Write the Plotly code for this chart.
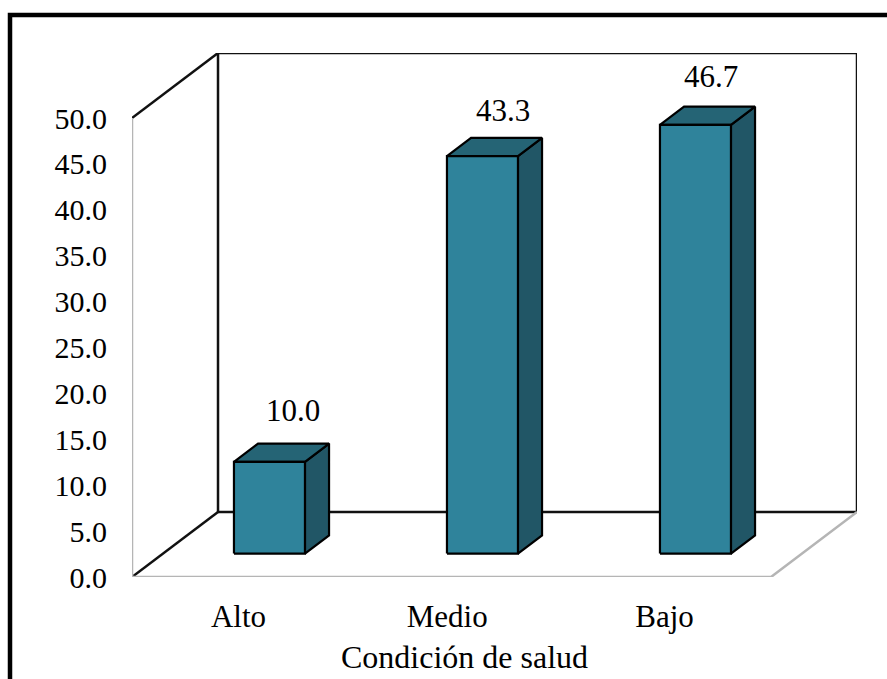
import plotly.graph_objects as go

categories = ["Alto", "Medio", "Bajo"]
values = [10.0, 43.3, 46.7]
y_ticks = [0, 5, 10, 15, 20, 25, 30, 35, 40, 45, 50]
axis_title = "Condición de salud"

FONT = "Liberation Serif"
FRONT = "#2F839B"
TOP = "#256475"
SIDE = "#215666"
WALL_DARK = "#111111"
WALL_GREY = "#B5B5B5"

Y_MAX = 50
# Oblique projection: how far a full step into the chart shifts a point
DEPTH_X = 0.4038
DEPTH_Y = 7.08
BAR_WIDTH = 1 / 3
BAR_NEAR = 0.36
BAR_FAR = 0.64


def project(cat, value, depth=0.0):
    return cat + depth * DEPTH_X, value + depth * DEPTH_Y


def polyline(corners, color, width=2.5, fill=None):
    xs, ys = zip(*[project(*c) for c in corners])
    return go.Scatter(
        x=xs, y=ys, mode="lines",
        line=dict(color=color, width=width),
        fill="toself" if fill else "none",
        fillcolor=fill,
        cliponaxis=False,
        hoverinfo="skip",
        showlegend=False,
    )


fig = go.Figure()

# Walls and floor of the box
left, right = -0.5, len(categories) - 0.5
fig.add_trace(polyline([(left, 0, 1), (right, 0, 1), (right, Y_MAX, 1),
                        (left, Y_MAX, 1), (left, 0, 1)], WALL_DARK))
fig.add_trace(polyline([(left, Y_MAX, 0), (left, Y_MAX, 1)], WALL_DARK))
fig.add_trace(polyline([(left, 0, 0), (left, 0, 1)], WALL_DARK))
fig.add_trace(polyline([(left, 0, 0), (right, 0, 0), (right, 0, 1)], WALL_GREY))
fig.add_trace(polyline([(left, 0, 0), (left, Y_MAX, 0)], WALL_GREY))

# Each bar is three faces: side, top and front
for i, v in enumerate(values):
    x0, x1 = i - BAR_WIDTH / 2, i + BAR_WIDTH / 2
    fig.add_trace(polyline([(x1, 0, BAR_NEAR), (x1, 0, BAR_FAR), (x1, v, BAR_FAR),
                            (x1, v, BAR_NEAR), (x1, 0, BAR_NEAR)], "black", 2.2, SIDE))
    fig.add_trace(polyline([(x0, v, BAR_NEAR), (x1, v, BAR_NEAR), (x1, v, BAR_FAR),
                            (x0, v, BAR_FAR), (x0, v, BAR_NEAR)], "black", 2.2, TOP))
    fig.add_trace(polyline([(x0, 0, BAR_NEAR), (x1, 0, BAR_NEAR), (x1, v, BAR_NEAR),
                            (x0, v, BAR_NEAR), (x0, 0, BAR_NEAR)], "black", 2.2, FRONT))

# Value labels sit above the top face of each bar
label_shifts = [(11, 42), (8, 37), (3.5, 39)]
for i, v in enumerate(values):
    x, y = project(i, v, (BAR_NEAR + BAR_FAR) / 2)
    fig.add_annotation(
        x=x, y=y, text=f"{v:.1f}", showarrow=False,
        xshift=label_shifts[i][0], yshift=label_shifts[i][1],
        font=dict(family=FONT, size=31, color="black"),
    )

fig.add_annotation(
    x=1.06, y=0, yref="y", yshift=-80, text=axis_title, showarrow=False,
    font=dict(family=FONT, size=32, color="black"),
)

# Heavy outer frame that runs off the right and bottom of the page
M_L, M_R, M_T, M_B = 132, 30, 53, 102
W, H = 887, 679
PW, PH = W - M_L - M_R, H - M_T - M_B
fx = lambda px: (px - M_L) / PW
fy = lambda px: 1 - (px - M_T) / PH
fig.add_shape(
    type="rect", xref="paper", yref="paper",
    x0=fx(10), x1=fx(W + 20), y0=fy(H + 20), y1=fy(15),
    line=dict(color="black", width=4.5),
)

fig.update_layout(
    width=W, height=H,
    margin=dict(l=M_L, r=M_R, t=M_T, b=M_B, autoexpand=False),
    paper_bgcolor="white", plot_bgcolor="white",
    showlegend=False,
    xaxis=dict(
        range=[left, right + DEPTH_X], showgrid=False, zeroline=False, showline=False,
        tickmode="array", tickvals=[0, 0.98, 2], ticktext=categories,
        ticks="", ticklabelstandoff=18,
        tickfont=dict(family=FONT, size=31, color="black"),
    ),
    yaxis=dict(
        range=[0, Y_MAX + DEPTH_Y], showgrid=False, zeroline=False, showline=False,
        tickmode="array", tickvals=y_ticks, ticktext=[f"{t:.1f}" for t in y_ticks],
        ticks="", ticklabelstandoff=24,
        tickfont=dict(family=FONT, size=30, color="black"),
    ),
)

fig.write_html("out.html")
